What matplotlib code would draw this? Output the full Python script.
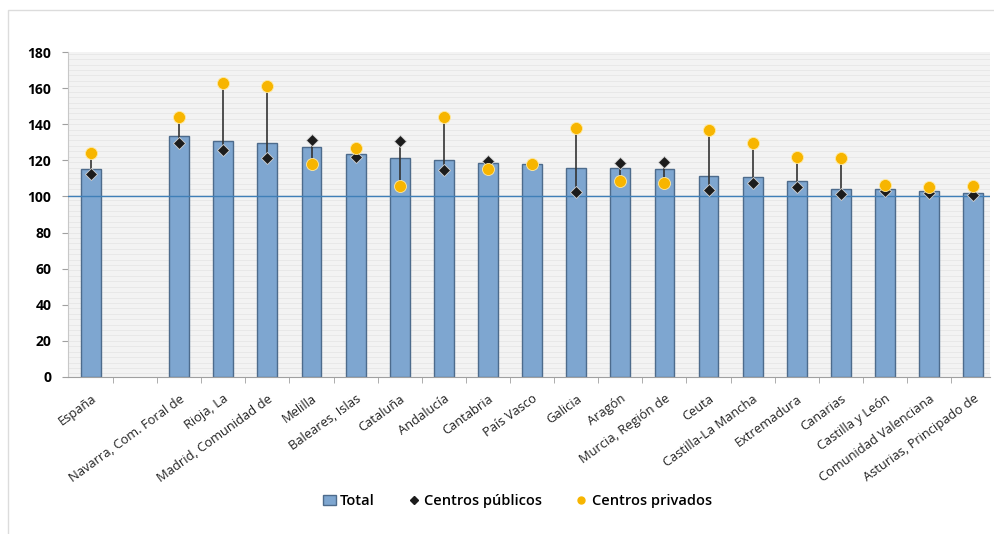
import numpy as np
import matplotlib.pyplot as plt
from matplotlib.lines import Line2D
from matplotlib.patches import Patch, Rectangle

plt.rcParams['font.family'] = ['Open Sans', 'DejaVu Sans']

# regions (empty slot after España, like the original)
regions = ["España", "", "Navarra, Com. Foral de", "Rioja, La", "Madrid, Comunidad de",
           "Melilla", "Baleares, Islas", "Cataluña", "Andalucía", "Cantabria",
           "País Vasco", "Galicia", "Aragón", "Murcia, Región de", "Ceuta",
           "Castilla-La Mancha", "Extremadura", "Canarias", "Castilla y León",
           "Comunidad Valenciana", "Asturias, Principado de"]

total = [115.3, np.nan, 133.4, 130.5, 129.4, 127.5, 123.4, 121.4, 120.1, 118.3,
         117.9, 116.0, 115.9, 115.0, 111.4, 110.5, 108.5, 104.4, 104.0, 103.1, 102.0]
publicos = [112.2, np.nan, 129.4, 125.5, 121.2, 131.2, 122.0, 130.6, 114.4, 119.8,
            118.0, 102.4, 118.8, 119.2, 103.3, 107.4, 105.2, 101.1, 103.0, 102.0, 100.9]
privados = [124.2, np.nan, 143.8, 162.6, 161.1, 118.0, 126.8, 105.9, 143.8, 115.3,
            117.9, 138.0, 108.5, 107.2, 136.8, 129.4, 122.0, 121.4, 106.5, 105.3, 106.0]

x = np.arange(len(regions))
total = np.array(total)
publicos = np.array(publicos)
privados = np.array(privados)

fig = plt.figure(figsize=(9.95, 5.34), dpi=100)
ax = fig.add_axes([68 / 995, 1 - 377 / 534, 922 / 995, 325 / 534])

# outer chart frame
fig.patches.append(Rectangle((8 / 995, -0.05), 1.2, 1 - 10 / 534 + 0.05,
                             transform=fig.transFigure, fill=False,
                             edgecolor="#dcdcdc", lw=1))

ax.set_facecolor("#f3f3f3")
for yy in np.arange(2, 180, 3):
    ax.axhline(yy, color="#e7e7e7", lw=0.6, zorder=0)

ax.bar(x, total, width=0.45, color="#7ea6d0", edgecolor="#4d6b8c", lw=1, zorder=2)
ax.axhline(100, color="#3f7fb8", lw=1, zorder=3)

# line joining public and private values
mask = ~np.isnan(publicos)
ax.vlines(x[mask], publicos[mask], privados[mask], color="#333333", lw=1.2, zorder=4)
ax.scatter(x, publicos, marker="D", s=38, color="#1c1c1c", edgecolors="#d0d0d0",
           linewidths=0.6, zorder=5)
ax.scatter(x, privados, marker="o", s=75, color="#f7b500", edgecolors="#ffe9a0",
           linewidths=0.6, zorder=6)

ax.set_xlim(-0.52, 20.38)
ax.set_ylim(0, 180)
ax.set_yticks(range(0, 181, 20))
ax.tick_params(axis="y", labelsize=10, length=4, color="#a0a0a0", pad=8)
for lab in ax.get_yticklabels():
    lab.set_fontweight("bold")
ax.set_xticks(x)
ax.set_xticklabels(regions, rotation=36, ha="right", rotation_mode="anchor",
                   fontsize=9.3, color="#222222")
ax.tick_params(axis="x", length=0, pad=11)
ax.set_xticks(x[:-1] + 0.5, minor=True)
ax.tick_params(axis="x", which="minor", length=4, color="#a0a0a0")

for s in ["top", "right"]:
    ax.spines[s].set_visible(False)
ax.spines["left"].set_color("#c8c8c8")
ax.spines["bottom"].set_color("#a0a0a0")

handles = [Patch(facecolor="#7ea6d0", edgecolor="#4d6b8c"),
           Line2D([], [], marker="D", ls="", color="#1c1c1c", markersize=4),
           Line2D([], [], marker="o", ls="", color="#f7b500", markersize=5)]
fig.legend(handles, ["Total", "Centros públicos", "Centros privados"],
           loc="center", bbox_to_anchor=(0.52, 1 - 501 / 534), ncol=3,
           frameon=False, handlelength=0.9, columnspacing=2.2,
           handletextpad=0.3, prop={"size": 10.5, "weight": "semibold"})

fig.savefig("out.png", dpi=100)
